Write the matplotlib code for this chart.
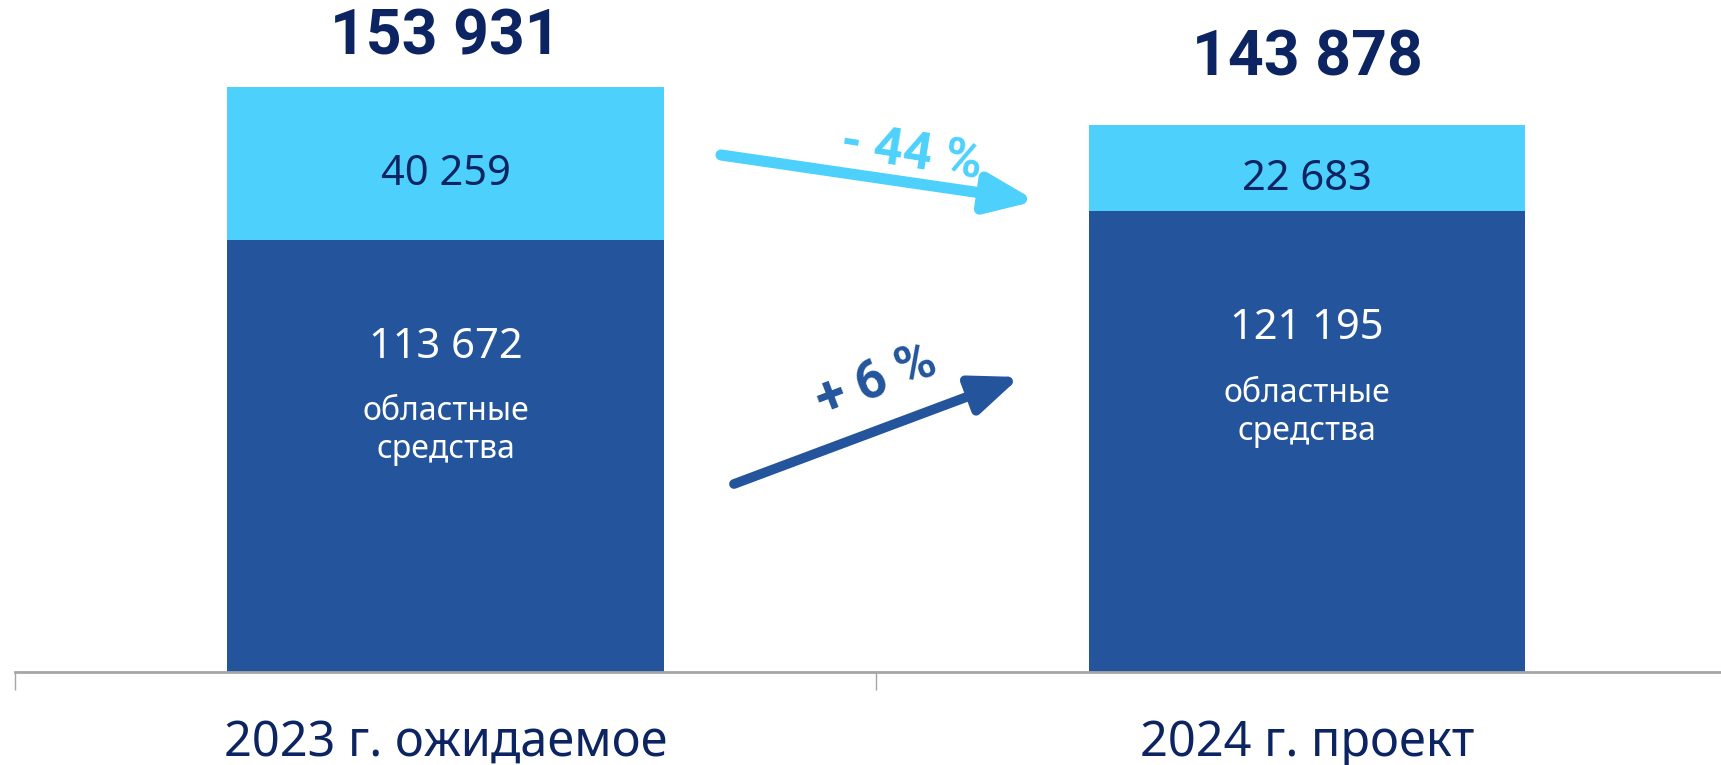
import matplotlib
matplotlib.use("Agg")
import matplotlib.pyplot as plt

plt.rcParams['font.family'] = ['Noto Sans', 'DejaVu Sans']
BOLD_FAMILY = ['Roboto', 'DejaVu Sans']

categories = ["2023 г. ожидаемое", "2024 г. проект"]
regional = [113672, 121195]
other = [40259, 22683]
totals = [153931, 143878]
regional_caption = "областные\nсредства"
change_other = "- 44 %"
change_regional = "+ 6 %"

DARK = "#24559C"
LIGHT = "#4DD1FC"
NAVY = "#0C2461"

W, H = 1721, 765
fig = plt.figure(figsize=(W / 100, H / 100), dpi=100)
ax = fig.add_axes([14.8 / W, (H - 672) / H, 1723 / W, 672 / H])

x = list(range(len(categories)))
ax.bar(x, regional, width=0.507, color=DARK, zorder=2)
ax.bar(x, other, bottom=regional, width=0.507, color=LIGHT, zorder=2)

ax.set_xlim(-0.5, 1.5)
ax.set_ylim(0, 176800)

for s in ["top", "right", "left"]:
    ax.spines[s].set_visible(False)
ax.spines["bottom"].set_color("#A6A6A6")
ax.spines["bottom"].set_linewidth(2)
ax.set_yticks([])
ax.set_xticks(x)
ax.set_xticklabels(categories, fontsize=35, color=NAVY)
ax.tick_params(axis="x", which="major", length=0, pad=33)
ax.set_xticks([-0.5, 0.5, 1.5], minor=True)
ax.tick_params(axis="x", which="minor", length=13, width=1, color="#A6A6A6", direction="out")

def fmt(v):
    return f"{v:,}".replace(",", " ")

px = 0.72  # points per pixel
total_off = [49, 67]
dark_off = [107, 117]
for i in x:
    ax.annotate(fmt(totals[i]), (i, totals[i]), xytext=(0, total_off[i] * px),
                textcoords="offset points", ha="center", va="center",
                fontsize=45, fontweight="bold", color=NAVY, family=BOLD_FAMILY)
    mid = regional[i] + other[i] / 2
    ax.annotate(fmt(other[i]), (i, mid), xytext=(0, -11 * px),
                textcoords="offset points", ha="center", va="center",
                fontsize=30, color=NAVY)
    ax.annotate(fmt(regional[i]), (i, regional[i]), xytext=(0, -dark_off[i] * px),
                textcoords="offset points", ha="center", va="center",
                fontsize=30, color="white")
    ax.annotate(regional_caption, (i, regional[i]), xytext=(0, -(dark_off[i] + 84) * px),
                textcoords="offset points", ha="center", va="center",
                fontsize=23, color="white", linespacing=1.2)

# arrows (figure pixel coords, origin bottom-left)
def fp(xp, yp):
    return (xp, H - yp)

ax.annotate("", xy=fp(1036, 201), xytext=fp(721, 155), xycoords="figure pixels",
            textcoords="figure pixels",
            arrowprops=dict(arrowstyle="-|>,head_length=1.6,head_width=0.65",
                            lw=8, color=LIGHT, shrinkA=0, shrinkB=0, mutation_scale=18))
ax.annotate("", xy=fp(1020, 377), xytext=fp(734, 484), xycoords="figure pixels",
            textcoords="figure pixels",
            arrowprops=dict(arrowstyle="-|>,head_length=1.6,head_width=0.65",
                            lw=7, color=DARK, shrinkA=0, shrinkB=0, mutation_scale=18))
fig.text(912 / W, 1 - 154 / H, change_other, rotation=-9, ha="center", va="center",
         fontsize=37, fontweight="bold", color=LIGHT, rotation_mode="anchor",
         family=BOLD_FAMILY)
fig.text(877 / W, 1 - 382 / H, change_regional, rotation=21, ha="center", va="center",
         fontsize=38, fontweight="bold", color=DARK, rotation_mode="anchor",
         family=BOLD_FAMILY)

fig.savefig("out.png", dpi=100)
